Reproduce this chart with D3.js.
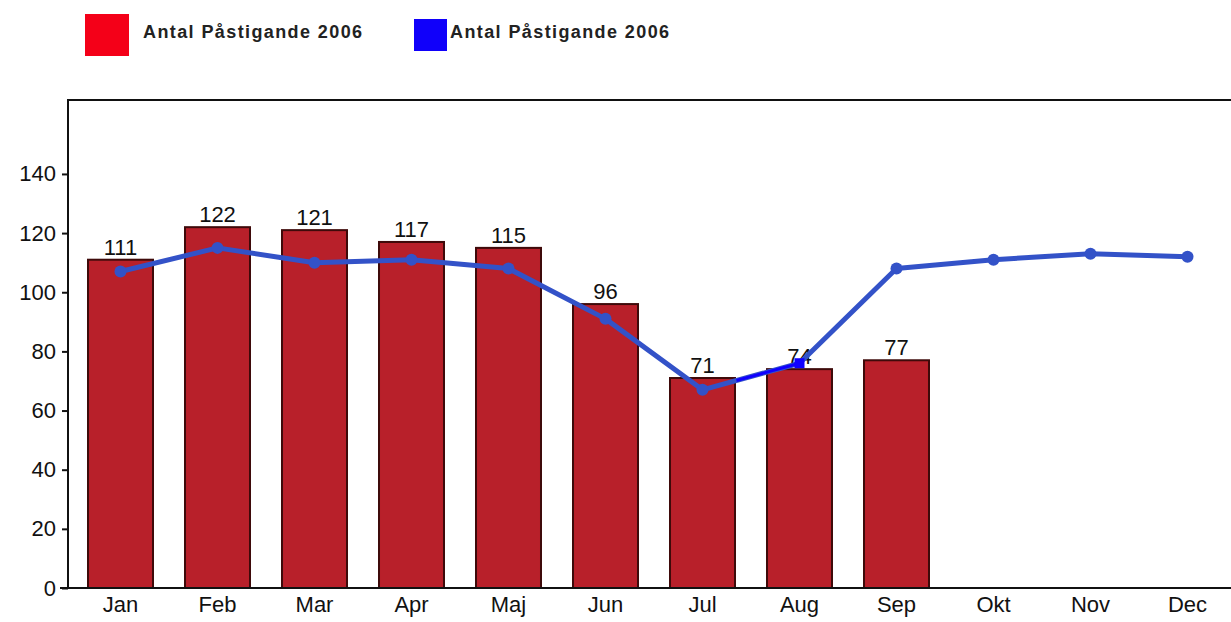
<!DOCTYPE html>
<html>
<head>
<meta charset="utf-8">
<script src="https://cdn.jsdelivr.net/npm/d3@7"></script>
<style>
  body { margin: 0; background: #fff; }
  text { font-family: "Liberation Sans", Arial, sans-serif; }
</style>
</head>
<body>
<svg class="chart"></svg>
<script>
let width = 1231
let height = 622

let months = ['Jan', 'Feb', 'Mar', 'Apr', 'Maj', 'Jun', 'Jul', 'Aug', 'Sep', 'Okt', 'Nov', 'Dec']
let barValues = [111, 122, 121, 117, 115, 96, 71, 74, 77]
let lineValues = [107, 115, 110, 111, 108, 91, 67, 76, 108, 111, 113, 112]
let yTicks = [0, 20, 40, 60, 80, 100, 120, 140]
let legendLabels = ['Antal Påstigande 2006', 'Antal Påstigande 2006']

let svg = d3.select('.chart')
  .attr('width', width)
  .attr('height', height)

let plotLeft = 68
let plotTop = 100
let plotBottom = 588

let x = d3.scaleBand()
  .domain(months)
  .range([72, 1236])
  .paddingInner(0.33)
  .paddingOuter(0.165)

let y = d3.scaleLinear()
  .domain([0, 165])
  .range([plotBottom, plotTop])

let cx = (i) => x(months[i]) + x.bandwidth() / 2

// bars
svg.append('g')
  .selectAll('rect')
  .data(barValues)
  .enter()
  .append('rect')
  .attr('x', (d, i) => x(months[i]))
  .attr('y', (d) => y(d))
  .attr('width', x.bandwidth())
  .attr('height', (d) => y(0) - y(d))
  .attr('fill', '#b8202a')
  .attr('stroke', '#3e0a0a')
  .attr('stroke-width', 2)

// value labels
svg.append('g')
  .selectAll('text')
  .data(barValues)
  .enter()
  .append('text')
  .attr('x', (d, i) => cx(i))
  .attr('y', (d) => y(d) - 5)
  .attr('text-anchor', 'middle')
  .attr('font-size', 22)
  .attr('fill', '#111')
  .text((d) => d)

// frame
svg.append('path')
  .attr('d', `M${plotLeft},${plotBottom}V${plotTop}H${width}`)
  .attr('fill', 'none')
  .attr('stroke', '#111')
  .attr('stroke-width', 2)

// y axis
let yAxis = svg.append('g')
  .attr('transform', `translate(${plotLeft}, 0)`)
  .call(d3.axisLeft(y).tickValues(yTicks).tickSize(6).tickPadding(6))
yAxis.select('.domain').remove()
yAxis.selectAll('line').attr('stroke', '#111').attr('stroke-width', 2)
yAxis.selectAll('text')
  .attr('font-size', 22)
  .attr('fill', '#111')
  .attr('font-family', '"Liberation Sans", Arial, sans-serif')

// x axis
let xAxis = svg.append('g')
  .attr('transform', `translate(0, ${plotBottom})`)
  .call(d3.axisBottom(x).tickSize(0).tickPadding(8))
xAxis.select('.domain')
  .attr('d', `M${plotLeft - 8},0H${width}`)
  .attr('stroke', '#111')
  .attr('stroke-width', 2)
xAxis.selectAll('text')
  .attr('font-size', 22)
  .attr('fill', '#111')
  .attr('font-family', '"Liberation Sans", Arial, sans-serif')

// line
let line = d3.line()
  .x((d, i) => cx(i))
  .y((d) => y(d))

svg.append('path')
  .datum(lineValues)
  .attr('d', line)
  .attr('fill', 'none')
  .attr('stroke', '#3352c8')
  .attr('stroke-width', 5)
  .attr('stroke-linejoin', 'round')

let points = lineValues.map((v, i) => ({ v: v, i: i }))

svg.append('g')
  .selectAll('circle')
  .data(points.filter((p) => p.i !== 7))
  .enter()
  .append('circle')
  .attr('cx', (d) => cx(d.i))
  .attr('cy', (d) => y(d.v))
  .attr('r', 6)
  .attr('fill', '#3352c8')

// bright blue overdraw between Jul and Aug
let t0 = 0.35
let segStart = [cx(6) + (cx(7) - cx(6)) * t0, y(lineValues[6] + (lineValues[7] - lineValues[6]) * t0)]
svg.append('path')
  .attr('d', `M${segStart[0]},${segStart[1]}L${cx(7)},${y(lineValues[7])}`)
  .attr('stroke', '#1000ff')
  .attr('stroke-width', 3)
svg.append('rect')
  .attr('x', cx(7) - 5)
  .attr('y', y(lineValues[7]) - 5)
  .attr('width', 10)
  .attr('height', 10)
  .attr('fill', '#1000ff')

// legend
let legendColors = ['#f40018', '#1000fa']
let legendBoxes = [
  { x: 85, y: 14, w: 44, h: 42, tx: 143 },
  { x: 414, y: 19, w: 33, h: 32, tx: 450 }
]

let legend = svg.append('g')
legendBoxes.forEach((b, i) => {
  legend.append('rect')
    .attr('x', b.x)
    .attr('y', b.y)
    .attr('width', b.w)
    .attr('height', b.h)
    .attr('fill', legendColors[i])
  legend.append('text')
    .attr('x', b.tx)
    .attr('y', 38)
    .attr('font-size', 18)
    .attr('font-weight', 'bold')
    .attr('letter-spacing', 1.4)
    .attr('fill', '#222')
    .text(legendLabels[i])
})
</script>
</body>
</html>
